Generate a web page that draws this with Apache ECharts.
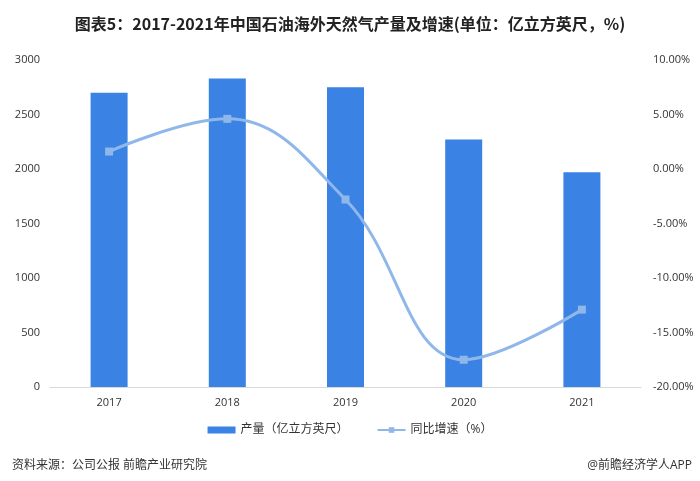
<!DOCTYPE html>
<html>
<head>
<meta charset="utf-8">
<script src="https://cdn.jsdelivr.net/npm/echarts@6/dist/echarts.min.js"></script>
<style>
html,body{margin:0;padding:0;background:#fff;}
#chart{width:700px;height:481px;}
</style>
</head>
<body>
<div id="chart"></div>
<script>
const categories = ['2017', '2018', '2019', '2020', '2021'];
const production = [2700, 2830, 2750, 2270, 1970];
const growth = [1.6, 4.6, -2.8, -17.5, -12.9];
const leftTicks = [0, 500, 1000, 1500, 2000, 2500, 3000];
const rightTicks = [-20, -15, -10, -5, 0, 5, 10];

const cjk = '"Liberation Sans Narrow","Noto Sans CJK SC",sans-serif';
const lab = '"Open Sans","Noto Sans CJK SC",sans-serif';
const chart = echarts.init(document.getElementById('chart'));
chart.setOption({
  backgroundColor: '#fff',
  animation: false,
  title: [{
    text: '图表5：2017-2021年中国石油海外天然气产量及增速(单位：亿立方英尺，%)',
    left: 'center', top: 11,
    textStyle: {fontFamily: cjk, fontSize: 16, fontWeight: 'bold', color: '#222'}
  }, {
    text: '资料来源：公司公报 前瞻产业研究院',
    left: 7, top: 455,
    textStyle: {fontFamily: lab, fontSize: 12, fontWeight: 'normal', color: '#333'}
  }, {
    text: '@前瞻经济学人APP',
    right: 3, top: 455,
    textStyle: {fontFamily: lab, fontSize: 12, fontWeight: 'normal', color: '#333'}
  }],
  legend: {
    top: 419, left: 'center', itemGap: 28,
    itemWidth: 28, itemHeight: 7,
    textStyle: {fontFamily: lab, fontSize: 12, color: '#333'},
    data: [{name: '产量（亿立方英尺）', icon: 'rect'}, {name: '同比增速（%）'}]
  },
  grid: {left: 50, right: 59, top: 60, bottom: 94},
  xAxis: {
    type: 'category', data: categories,
    axisLine: {lineStyle: {color: '#d9d9d9'}},
    axisTick: {show: false},
    axisLabel: {color: '#333', fontFamily: lab, fontSize: 11, margin: 10}
  },
  yAxis: [{
    type: 'value', min: leftTicks[0], max: leftTicks[leftTicks.length - 1], interval: 500,
    splitLine: {show: false}, axisLine: {show: false}, axisTick: {show: false},
    axisLabel: {color: '#333', fontFamily: lab, fontSize: 11, margin: 10,
      formatter: v => String(v)}
  }, {
    type: 'value', min: rightTicks[0], max: rightTicks[rightTicks.length - 1], interval: 5,
    splitLine: {show: false}, axisLine: {show: false}, axisTick: {show: false},
    axisLabel: {color: '#333', fontFamily: lab, fontSize: 11, margin: 12,
      formatter: v => v.toFixed(2) + '%'}
  }],
  series: [{
    name: '产量（亿立方英尺）', type: 'bar', data: production,
    barWidth: 37, itemStyle: {color: '#3a82e4'}
  }, {
    name: '同比增速（%）', type: 'line', yAxisIndex: 1, data: growth,
    smooth: 0.4, symbol: 'rect', symbolSize: 8,
    lineStyle: {color: '#8fb7ea', width: 3},
    itemStyle: {color: '#8fb7ea'}
  }]
});
</script>
</body>
</html>
